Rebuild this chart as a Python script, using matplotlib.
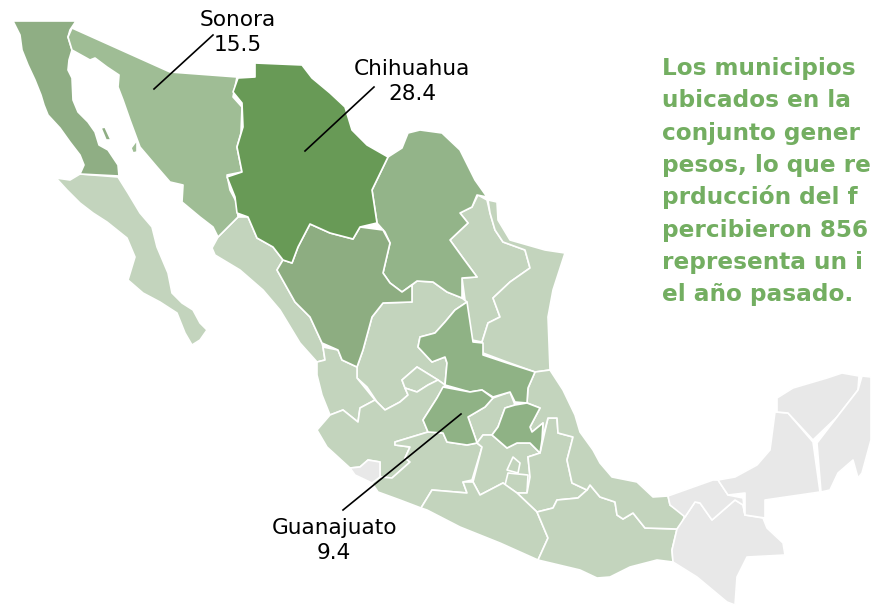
import matplotlib
matplotlib.use('Agg')
import matplotlib.pyplot as plt
from matplotlib.patches import Polygon

# state outlines (pixel space of the picture)
baja_california = [(13,21),(76,21),(70,30),(68,37),(72,50),(69,60),(68,70),(72,78),(73,100),(78,112),(88,122),(95,132),(99,145),(108,150),(118,165),(119,176),(80,174),(84,165),(80,155),(70,142),(60,128),(48,115),(44,105),(41,95),(35,80),(28,65),(22,50),(20,35)]
baja_sur = [(56,178),(70,180),(80,174),(118,177),(128,193),(140,213),(152,227),(157,247),(168,273),(172,293),(182,303),(193,310),(200,323),(207,330),(200,340),(192,345),(185,333),(177,313),(160,302),(143,293),(128,280),(135,257),(127,238),(107,222),(93,213),(80,203),(67,190)]
sonora = [(72,28),(170,72),(237,77),(233,97),(242,107),(241,133),(237,147),(242,172),(227,175),(230,190),(237,203),(238,217),(218,237),(213,227),(200,217),(182,202),(183,185),(170,182),(157,167),(140,147),(130,120),(123,100),(118,87),(119,75),(107,67),(95,58),(90,60),(72,50),(68,37)]
chihuahua = [(255,63),(302,65),(312,78),(330,93),(345,107),(352,130),(367,145),(388,157),(372,190),(377,223),(360,227),(353,239),(330,233),(310,224),(298,247),(292,263),(283,260),(273,247),(257,238),(248,217),(237,213),(235,197),(227,177),(242,172),(237,147),(243,127),(242,103),(233,92),(238,78),(255,77)]
coahuila = [(388,157),(402,148),(408,133),(420,130),(442,133),(460,150),(475,180),(487,197),(477,195),(472,207),(460,213),(468,223),(450,240),(463,258),(477,277),(462,278),(462,298),(447,292),(433,282),(417,281),(402,292),(390,283),(383,273),(390,243),(385,232),(377,223),(372,190)]
nuevo_leon = [(478,195),(487,200),(490,213),(495,230),(503,242),(525,250),(530,268),(510,282),(493,298),(500,317),(488,323),(482,342),(472,340),(465,300),(462,278),(477,277),(463,258),(450,240),(468,223),(460,213),(472,207)]
tamaulipas = [(488,200),(497,202),(498,220),(510,240),(545,250),(565,253),(553,290),(548,317),(550,370),(535,372),(507,362),(483,353),(482,342),(488,323),(500,317),(493,298),(510,282),(530,268),(525,250),(503,242),(495,230),(490,213)]
durango = [(310,224),(330,233),(353,239),(360,227),(383,230),(390,243),(383,273),(390,283),(402,292),(412,285),(412,302),(383,303),(372,317),(363,350),(357,367),(342,360),(338,350),(322,343),(310,317),(295,302),(277,270),(283,260),(292,263),(298,247)]
sinaloa = [(218,237),(238,217),(248,217),(257,238),(273,247),(283,260),(277,270),(295,302),(310,317),(322,343),(323,347),(325,360),(317,362),(300,343),(280,310),(263,290),(240,270),(215,255),(212,248)]
san_luis = [(467,302),(473,342),(483,343),(483,355),(507,363),(535,372),(528,388),(527,403),(515,402),(510,392),(493,397),(482,390),(470,392),(445,385),(447,363),(445,357),(432,362),(418,347),(420,337),(435,333),(445,322),(455,310)]
zacatecas = [(383,303),(412,302),(412,285),(417,281),(433,282),(447,292),(462,298),(467,302),(455,310),(445,322),(435,333),(420,337),(418,347),(432,362),(445,357),(447,363),(445,385),(438,380),(417,367),(402,380),(405,388),(408,395),(400,402),(385,410),(377,402),(367,387),(357,378),(357,367),(363,350),(372,317)]
aguascalientes = [(402,380),(417,367),(438,380),(428,385),(417,392),(405,388)]
nayarit = [(317,362),(325,360),(323,347),(338,350),(342,360),(357,367),(357,378),(375,400),(360,408),(358,422),(343,410),(330,415),(322,395),(317,375)]
jalisco = [(330,415),(343,410),(358,422),(360,408),(375,400),(377,402),(385,410),(400,402),(408,395),(405,388),(417,392),(428,385),(438,380),(445,385),(437,398),(423,420),(428,432),(395,442),(395,445),(410,447),(405,458),(410,462),(392,478),(380,477),(380,462),(368,460),(360,467),(350,468),(327,447),(317,430)]
colima = [(350,468),(360,467),(368,460),(380,462),(380,477),(372,483),(355,475)]
michoacan = [(428,432),(395,442),(395,445),(410,447),(405,458),(410,462),(392,478),(380,477),(372,483),(378,492),(400,500),(421,508),(432,490),(467,493),(463,482),(472,480),(482,447),(477,443),(467,445),(447,442),(443,433)]
guanajuato = [(443,387),(470,392),(482,390),(493,398),(485,407),(468,417),(475,437),(477,443),(467,445),(447,442),(443,433),(428,432),(423,420),(437,398)]
queretaro = [(493,398),(510,392),(515,405),(505,408),(498,427),(492,435),(483,435),(477,443),(475,437),(468,417),(485,407)]
hidalgo = [(515,405),(527,403),(540,408),(530,427),(532,432),(543,423),(542,440),(540,453),(530,443),(517,443),(507,448),(492,435),(498,427),(505,408)]
edomex = [(477,443),(483,435),(492,435),(507,448),(517,443),(530,443),(540,453),(528,457),(530,477),(527,493),(517,493),(503,483),(480,495),(473,482),(482,447)]
cdmx = [(507,470),(513,457),(520,463),(518,473)]
morelos = [(505,485),(508,473),(528,475),(527,493),(517,493)]
tlaxcala = [(528,457),(547,452),(558,463),(545,472)]
puebla = [(540,453),(548,418),(557,418),(558,433),(573,437),(567,460),(572,483),(587,490),(578,498),(557,500),(553,508),(537,512),(517,493),(527,493),(530,477),(528,457)]
guerrero = [(421,508),(432,490),(467,493),(463,482),(473,482),(480,495),(503,483),(517,493),(537,512),(548,538),(538,560),(500,543),(460,527),(427,510)]
oaxaca = [(537,512),(553,508),(557,500),(578,498),(587,490),(590,485),(600,497),(615,502),(617,515),(623,519),(633,513),(645,528),(677,529),(672,550),(673,562),(657,560),(630,567),(610,577),(597,578),(580,570),(538,560),(548,538)]
veracruz = [(535,372),(550,370),(563,390),(575,415),(580,432),(593,450),(600,463),(612,477),(637,482),(653,497),(668,496),(670,505),(685,515),(682,523),(677,529),(645,528),(633,513),(623,519),(617,515),(615,502),(600,497),(590,485),(587,490),(572,483),(567,460),(573,437),(558,433),(557,418),(548,418),(542,440),(543,423),(532,432),(530,427),(540,408),(527,403),(528,388)]
chiapas = [(677,529),(685,517),(695,502),(700,503),(712,520),(735,500),(743,505),(745,515),(763,518),(767,528),(783,543),(785,555),(747,557),(737,577),(735,605),(727,602),(697,577),(673,562),(672,550)]
tabasco = [(668,496),(713,480),(718,480),(728,495),(743,498),(745,515),(743,505),(735,500),(712,520),(700,503),(695,502),(685,517),(670,505)]
campeche = [(718,480),(735,477),(757,465),(770,450),(775,412),(788,413),(813,442),(820,492),(765,500),(765,518),(745,515),(745,493),(728,495)]
yucatan = [(777,412),(777,398),(793,388),(827,378),(842,373),(859,376),(858,390),(837,417),(813,440),(788,413)]
quintana_roo = [(862,376),(871,377),(871,440),(862,473),(858,478),(853,460),(838,473),(830,490),(821,492),(817,443),(837,417),(858,390)]
isla_tiburon = [(131,148),(137,140),(137,152),(133,153)]
isla_angel = [(101,128),(105,127),(111,140),(106,140)]

light = [baja_sur, sinaloa, nuevo_leon, tamaulipas, zacatecas, aguascalientes, nayarit, jalisco, michoacan,
         queretaro, edomex, cdmx, morelos, tlaxcala, puebla, guerrero, oaxaca, veracruz]
grey = [colima, chiapas, tabasco, campeche, yucatan, quintana_roo]

labels = ['Sonora', 'Chihuahua', 'Guanajuato']
values = [15.5, 28.4, 9.4]

parrafo = ['Los municipios', 'ubicados en la', 'conjunto gener', 'pesos, lo que re',
           'prducción del f', 'percibieron 856', 'representa un i', 'el año pasado.']

fig = plt.figure(figsize=(8.71, 6.06), dpi=100)
ax = fig.add_axes([0, 0, 1, 1])
ax.set_xlim(0, 871)
ax.set_ylim(606, 0)
ax.axis('off')

groups = [
    (light, '#c3d4bd'),
    (grey, '#e8e8e8'),
    ([baja_california, isla_angel], '#8fae84'),
    ([sonora, isla_tiburon], '#9fbd95'),
    ([coahuila], '#93b489'),
    ([durango], '#8dad81'),
    ([san_luis, guanajuato, hidalgo], '#8fb285'),
    ([chihuahua], '#689a56'),
]

for states, color in groups:
    for state in states:
        ax.add_patch(Polygon(state, closed=True, facecolor=color, edgecolor='white', linewidth=1.2, joinstyle='round'))

# leaders from the label to the state
ax.plot([213, 154], [35, 89], color='k', linewidth=1.2)
ax.plot([374, 305], [87, 151], color='k', linewidth=1.2)
ax.plot([461, 343], [414, 510], color='k', linewidth=1.2)

fontName = 'DejaVu Sans'
labelSize = 15.6
ax.text(238, 26, labels[0], ha='center', va='baseline', fontsize=labelSize, family=fontName)
ax.text(238, 51, str(values[0]), ha='center', va='baseline', fontsize=labelSize, family=fontName)
ax.text(412, 75, labels[1], ha='center', va='baseline', fontsize=labelSize, family=fontName)
ax.text(412, 100, str(values[1]), ha='center', va='baseline', fontsize=labelSize, family=fontName)
ax.text(334, 534, labels[2], ha='center', va='baseline', fontsize=labelSize, family=fontName)
ax.text(334, 559, str(values[2]), ha='center', va='baseline', fontsize=labelSize, family=fontName)

for i in range(len(parrafo)):
    ax.text(662, 75 + i * 32.3, parrafo[i], ha='left', va='baseline', fontsize=16.7, fontweight='bold',
            color='#73ae61', family=fontName)

fig.savefig('out.png', dpi=100)
